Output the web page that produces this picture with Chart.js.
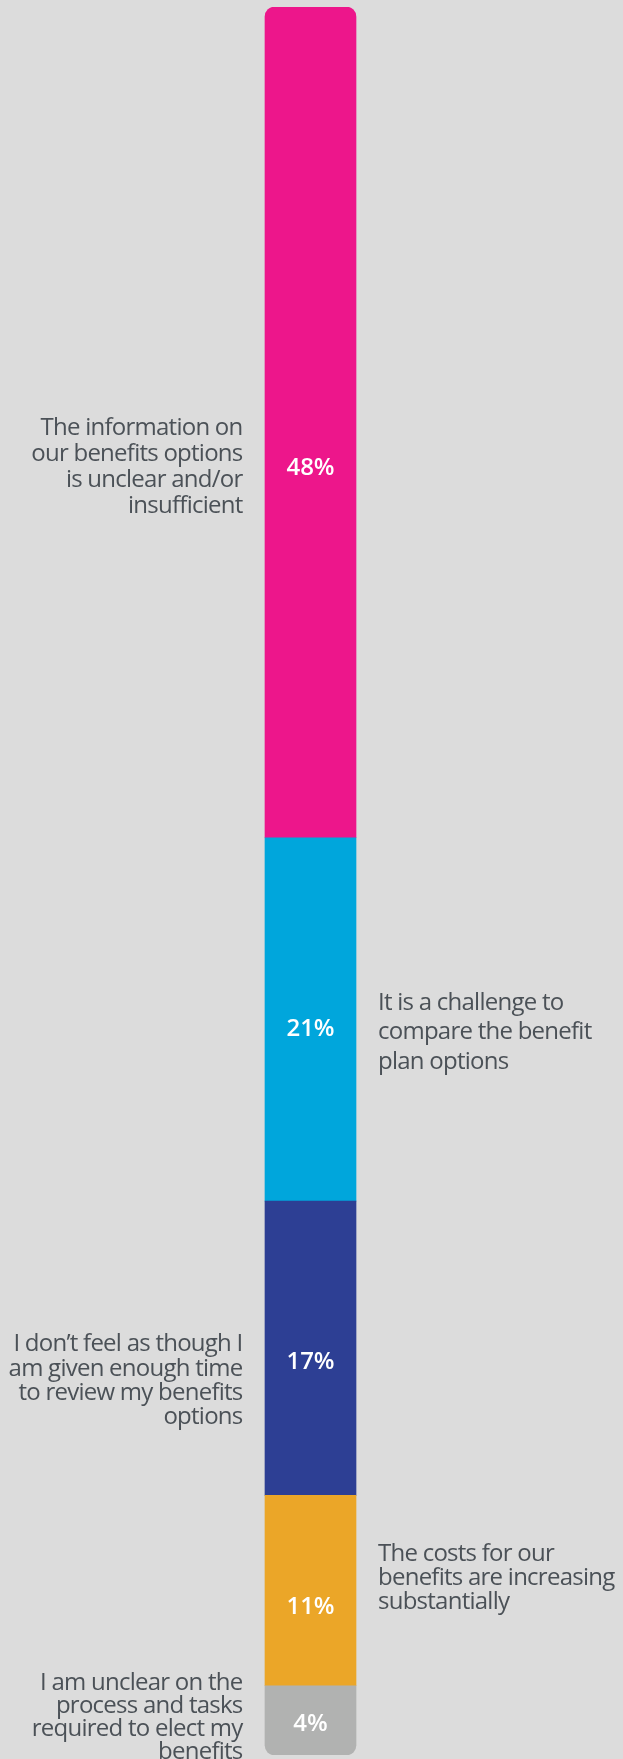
<!DOCTYPE html>
<html>
<head>
<meta charset="utf-8">
<script src="https://cdn.jsdelivr.net/npm/chart.js@4"></script>
<style>
  html, body { margin: 0; padding: 0; background: #dcdcdc; }
  #wrap { width: 623px; height: 1759px; position: relative; }
</style>
</head>
<body>
<div id="wrap"><canvas id="reasonsChart"></canvas></div>
<script>
// stack order: bottom segment first
const shares = [4, 11, 17, 21, 48];
const reasons = [
  ['I am unclear on the', 'process and tasks', 'required to elect my', 'benefits'],
  ['The costs for our', 'benefits are increasing', 'substantially'],
  ['I don\u2019t feel as though I', 'am given enough time', 'to review my benefits', 'options'],
  ['It is a challenge to', 'compare the benefit', 'plan options'],
  ['The information on', 'our benefits options', 'is unclear and/or', 'insufficient']
];
const segmentColors = ['#b1b2b1', '#eba628', '#2d3f94', '#00a6dc', '#ed168b'];

// per-segment placement of the texts around the bar
const labelStyle = {
  side:      ['left', 'right', 'left', 'right', 'left'],
  lineGap:   [23.2, 24, 24.3, 29.5, 26.2],
  textNudge: [-4.5, -14.5, 31, 11, 43],
  valueNudge:[3.5, 17, 14, 10, 46]
};

const textPlugin = {
  id: 'reasonText',
  afterDatasetsDraw(chart) {
    const ctx = chart.ctx;
    ctx.save();
    chart.data.datasets.forEach((ds, i) => {
      const bar = chart.getDatasetMeta(i).data[0];
      const mid = (bar.y + bar.base) / 2;
      const half = bar.width / 2;

      // value inside the segment
      ctx.fillStyle = '#ffffff';
      ctx.font = '600 24px "Open Sans"';
      ctx.letterSpacing = '0px';
      ctx.textAlign = 'center';
      ctx.textBaseline = 'middle';
      ctx.fillText(shares[i] + '%', bar.x, mid + labelStyle.valueNudge[i]);

      // reason text beside the bar
      const lines = reasons[i];
      const gap = labelStyle.lineGap[i];
      const capHalf = 8.6;
      let y = mid + labelStyle.textNudge[i] - (lines.length - 1) * gap / 2 + capHalf;
      const left = labelStyle.side[i] === 'left';
      ctx.fillStyle = '#4b5157';
      ctx.font = '400 24px "Open Sans"';
      ctx.letterSpacing = '-0.75px';
      ctx.textAlign = left ? 'right' : 'left';
      ctx.textBaseline = 'alphabetic';
      const x = left ? bar.x - half - 22.5 : bar.x + half + 22;
      lines.forEach(line => {
        ctx.fillText(line, x, y);
        y += gap;
      });
    });
    ctx.restore();
  }
};

const last = shares.length - 1;
const datasets = shares.map((v, i) => ({
  data: [v],
  backgroundColor: segmentColors[i],
  borderWidth: 0,
  borderSkipped: i === 0 ? false : 'start',
  borderRadius: i === 0
    ? { topLeft: 0, topRight: 0, bottomLeft: 10, bottomRight: 10 }
    : i === last
      ? { topLeft: 10, topRight: 10, bottomLeft: 0, bottomRight: 0 }
      : 0,
  barThickness: 91
}));

new Chart(document.getElementById('reasonsChart'), {
  type: 'bar',
  data: { labels: [''], datasets: datasets },
  options: {
    responsive: true,
    maintainAspectRatio: false,
    animation: false,
    layout: { padding: { top: 7, bottom: 4, left: 0, right: 2 } },
    scales: {
      x: { stacked: true, display: false },
      y: { stacked: true, display: false, min: 0, max: shares.reduce((a, b) => a + b, 0) }
    },
    plugins: { legend: { display: false }, tooltip: { enabled: false } }
  },
  plugins: [textPlugin]
});
</script>
</body>
</html>
